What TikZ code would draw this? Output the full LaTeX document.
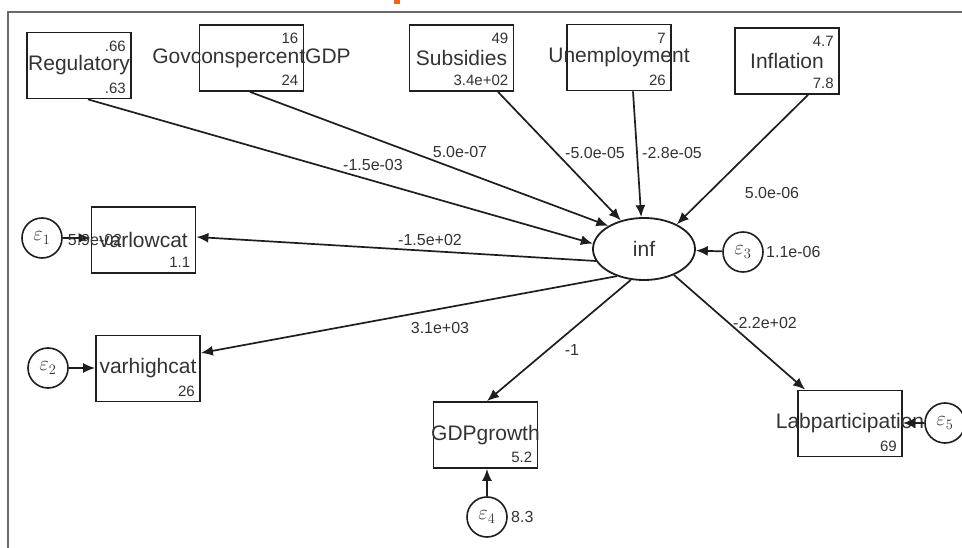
\documentclass[tikz,border=0pt]{standalone}
\usepackage{fontspec}
\setmainfont{Liberation Sans}
\usetikzlibrary{arrows.meta,shapes.geometric}
\definecolor{txt}{HTML}{333333}
\definecolor{edge}{HTML}{1E1E1E}
\definecolor{frm}{HTML}{6A6A6A}
\definecolor{orng}{HTML}{E8661E}
\newcommand\obsbox[5]{%
  \node[box] (#1) at (#2) {};
  \node[lbl] (#1l) at (#1) {#3};
  \node[numtop] (#1t) at ([xshift=-6pt,yshift=-9pt]#1.north east) {#4};
  \node[numbot] (#1b) at ([xshift=-6pt,yshift=6pt]#1.south east) {#5};}
\begin{document}
\begin{tikzpicture}[x=1pt,y=-1pt,
  box/.style={draw=edge, line width=1.8pt, minimum width=104pt, minimum height=66pt, inner sep=0pt},
  lbl/.style={font=\fontsize{21}{24}\selectfont, text=txt, inner sep=0pt},
  numtop/.style={font=\fontsize{15}{17}\selectfont, text=txt, inner sep=0pt, anchor=north east},
  numbot/.style={font=\fontsize{15}{17}\selectfont, text=txt, inner sep=0pt, anchor=south east},
  err/.style={circle, draw=edge, line width=1.6pt, minimum size=40pt, inner sep=0pt, font=\fontsize{20}{22}\selectfont, text=txt},
  lat/.style={ellipse, draw=edge, line width=1.8pt, minimum width=102pt, minimum height=62pt, inner sep=0pt, font=\fontsize{21}{24}\selectfont, text=txt},
  pth/.style={draw=edge, line width=1.7pt, -{Latex[length=12pt,width=10pt]}},
  coef/.style={font=\fontsize{16}{18}\selectfont, text=txt, inner sep=0pt}]
\useasboundingbox (0,0) rectangle (962,548);
\fill[white] (0,0) rectangle (962,548);
% frame
\draw[frm, line width=1.3pt] (962,12) -- (8,12) -- (8,548);
\fill[orng] (394,0) rectangle (400,4);
% observed boxes
\obsbox{reg}{79,65.5}{Regulatory}{.66}{.63}
\obsbox{gov}{251.5,58}{GovconspercentGDP}{16}{24}
\obsbox{sub}{461.5,58}{Subsidies}{49}{3.4e+02}
\obsbox{une}{619,57.5}{Unemployment}{7}{26}
\obsbox{infl}{787,61}{Inflation}{4.7}{7.8}
\obsbox{vlow}{143.5,240}{varlowcat}{}{1.1}
\obsbox{vhigh}{148,368.5}{varhighcat}{}{26}
\obsbox{gdp}{485.5,435}{GDPgrowth}{}{5.2}
\obsbox{lab}{850,423.5}{Labparticipation}{}{69}
% latent
\node[lat] (inf) at (644,249) {inf};
% errors
\node[err] (e1) at (42,238) {$\varepsilon_1$};
\node[err] (e2) at (48,368) {$\varepsilon_2$};
\node[err] (e3) at (743,252) {$\varepsilon_3$};
\node[err] (e4) at (487,517) {$\varepsilon_4$};
\node[err] (e5) at (945,423) {$\varepsilon_5$};
% paths into inf
\draw[pth] ([xshift=9pt]reg.south) -- (inf.174);
\draw[pth] ([xshift=-1.5pt]gov.south) -- (inf.147);
\draw[pth] ([xshift=36.5pt]sub.south) -- (inf.129);
\draw[pth] ([xshift=14pt]une.south) -- (inf.95);
\draw[pth] ([xshift=21pt]infl.south) -- (inf.37);
% paths out of inf
\draw[pth] (inf.194) -- ([yshift=3pt]vlow.east);
\draw[pth] (inf.225) -- ([yshift=15.5pt]vhigh.east);
\draw[pth] (inf.247) -- ([xshift=1.5pt]gdp.north);
\draw[pth] (inf.319) -- ([xshift=8pt]lab.north west);
% error paths
\draw[pth] (e1.east) -- (e1.east -| vlow.west);
\draw[pth] (e2.east) -- (e2.east -| vhigh.west);
\draw[pth] (e3) -- (inf);
\draw[pth] (e4.north) -- (e4.north |- gdp.south);
\draw[pth] (e5.west) -- (e5.west -| lab.east);
% coefficients
\node[coef] (c1) at (373,165) {-1.5e-03};
\node[coef] (c2) at (460,152) {5.0e-07};
\node[coef] (c3) at (595,153) {-5.0e-05};
\node[coef] (c4) at (672,153) {-2.8e-05};
\node[coef] (c5) at (772,193) {5.0e-06};
\node[coef] (c6) at (430,240) {-1.5e+02};
\node[coef] (c7) at (440,328) {3.1e+03};
\node[coef] (c8) at (572,350) {-1};
\node[coef] (c9) at (765,323) {-2.2e+02};
\node[coef, anchor=west] (v3) at (766,252) {1.1e-06};
\node[coef, anchor=west] (v4) at (511,517) {8.3};
\node[coef] (v1) at (95,240) {5.9e-02};
\end{tikzpicture}
\end{document}
